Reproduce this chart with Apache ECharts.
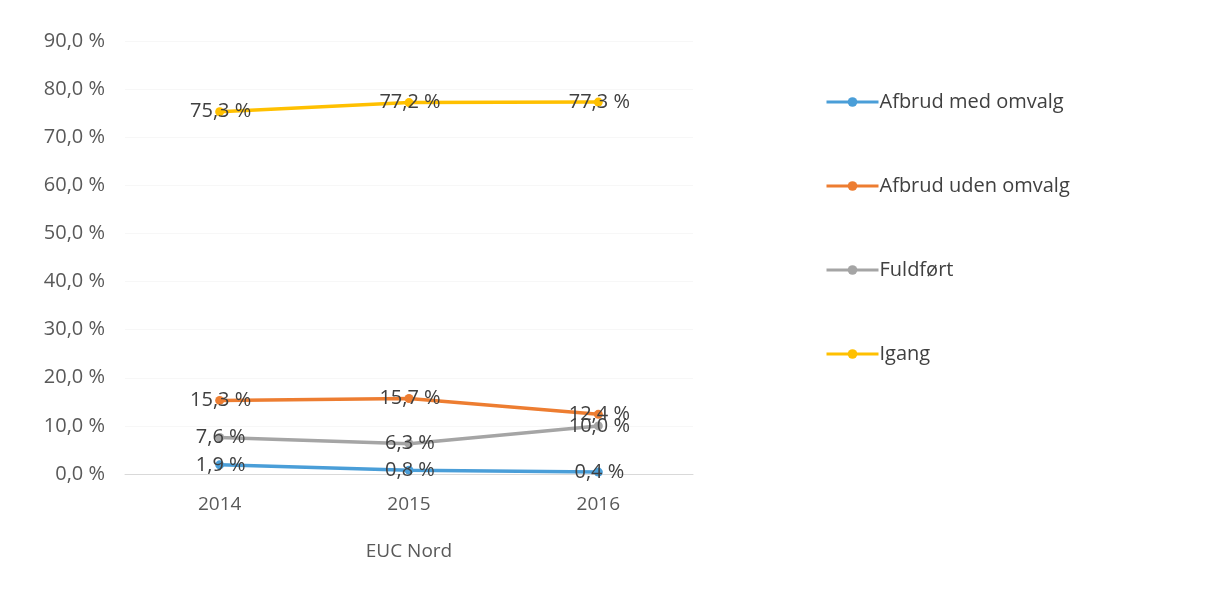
<!DOCTYPE html>
<html>
<head>
<meta charset="utf-8">
<script src="https://cdn.jsdelivr.net/npm/echarts@6/dist/echarts.min.js"></script>
<style>
  html, body { margin: 0; padding: 0; background: #fff; }
  #main { width: 1214px; height: 598px; }
</style>
</head>
<body>
<div id="main"></div>
<script>
// kategorier og serier
var years = ['2014', '2015', '2016'];
var seriesNames = ['Afbrud med omvalg', 'Afbrud uden omvalg', 'Fuldført', 'Igang'];
var afbrudMed = [1.9, 0.8, 0.4];
var afbrudUden = [15.3, 15.7, 12.4];
var fuldfoert = [7.6, 6.3, 10.0];
var igang = [75.3, 77.2, 77.3];
var colors = ['#4a9ed8', '#ed7d31', '#a5a5a5', '#ffc000'];

var fontName = '"Open Sans", "Noto Sans", sans-serif';

function pct(v) {
    return v.toFixed(1).replace('.', ',') + ' %';
}

function makeSeries(name, data, color) {
    return {
        name: name,
        type: 'line',
        data: data,
        symbol: 'circle',
        symbolSize: 9,
        lineStyle: { width: 3.5, color: color },
        itemStyle: { color: color },
        label: {
            show: true,
            position: 'inside',
            offset: [1, 0],
            formatter: function (p) { return pct(p.value); },
            fontFamily: fontName,
            fontSize: 20,
            color: '#404040'
        }
    };
}

var myChart = echarts.init(document.getElementById('main'));
var option = {
    backgroundColor: '#fff',
    animation: false,
    grid: { left: 125, right: 521, top: 41, bottom: 124 },
    legend: {
        orient: 'vertical',
        left: 820,
        top: 87,
        itemGap: 64,
        itemWidth: 52,
        itemHeight: 12,
        data: seriesNames,
        lineStyle: { width: 3 },
        textStyle: { fontFamily: fontName, fontSize: 20, color: '#404040', padding: [0, 0, 0, -4] }
    },
    xAxis: {
        type: 'category',
        data: years,
        name: 'EUC Nord',
        nameLocation: 'middle',
        nameGap: 68,
        nameTextStyle: { fontFamily: fontName, fontSize: 19, color: '#595959' },
        axisLine: { lineStyle: { color: '#d9d9d9', width: 1 } },
        axisTick: { show: false },
        axisLabel: { margin: 21, fontFamily: fontName, fontSize: 19, color: '#595959' }
    },
    yAxis: {
        type: 'value',
        min: 0,
        max: 90,
        interval: 10,
        axisLine: { show: false },
        axisTick: { show: false },
        splitLine: { lineStyle: { color: '#f7f7f7' } },
        axisLabel: {
            margin: 20,
            fontFamily: fontName,
            fontSize: 20,
            color: '#595959',
            formatter: function (v) { return pct(v); }
        }
    },
    series: [
        makeSeries(seriesNames[0], afbrudMed, colors[0]),
        makeSeries(seriesNames[1], afbrudUden, colors[1]),
        makeSeries(seriesNames[2], fuldfoert, colors[2]),
        makeSeries(seriesNames[3], igang, colors[3])
    ]
};
myChart.setOption(option);
</script>
</body>
</html>
